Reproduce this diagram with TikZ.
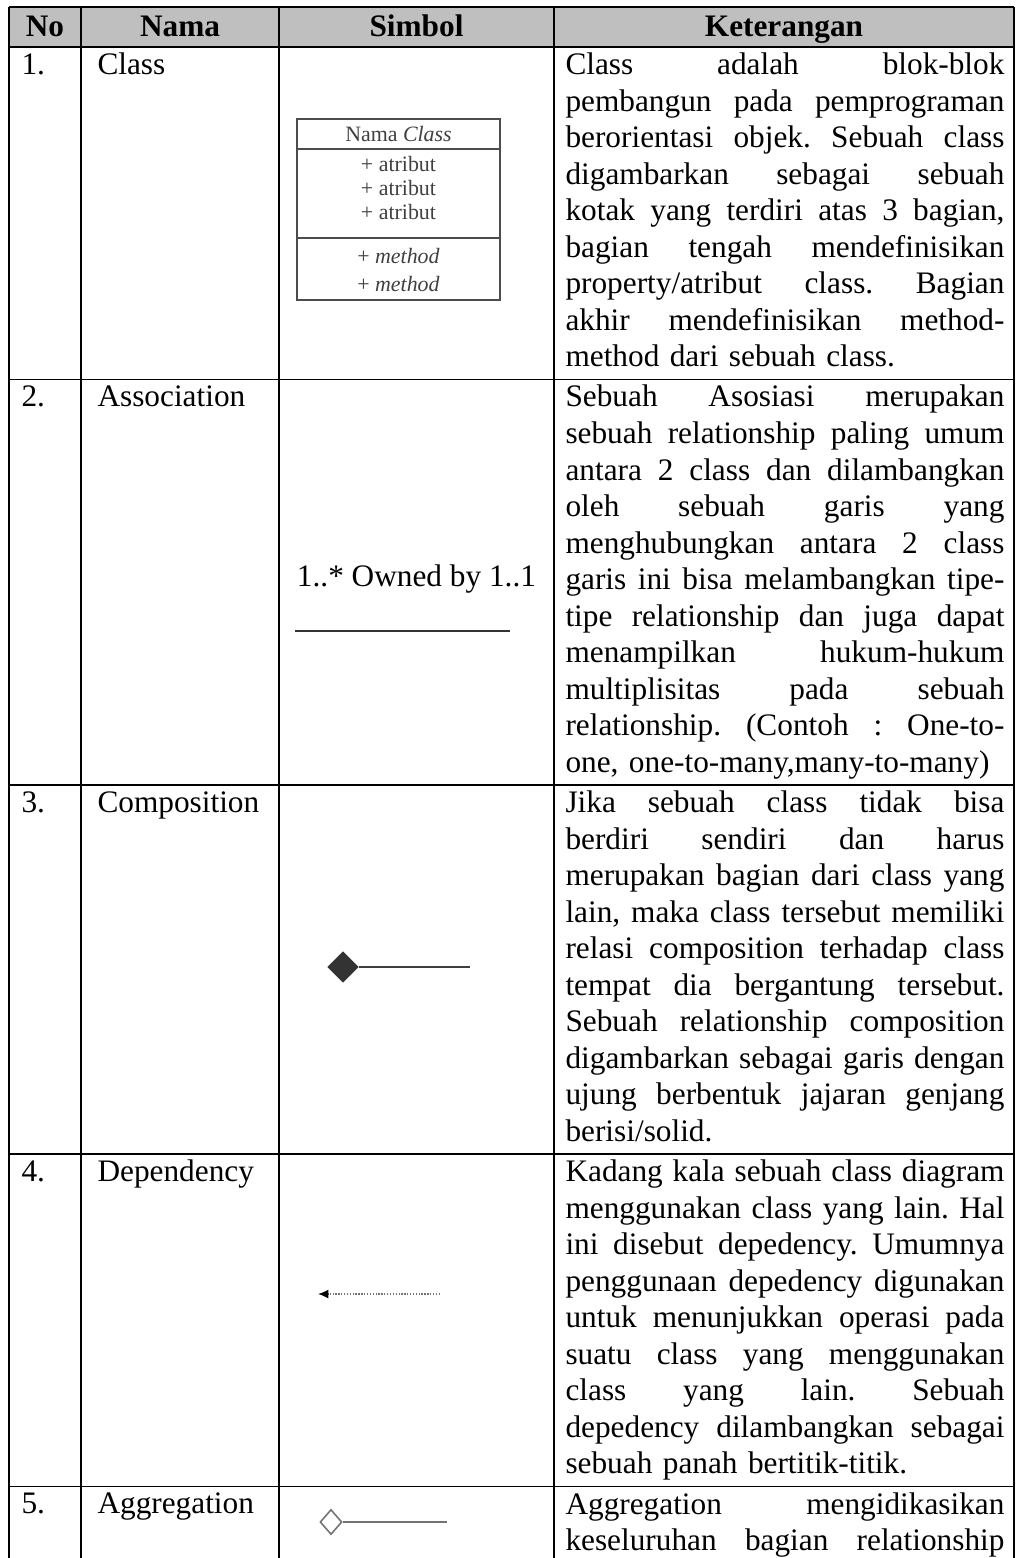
\documentclass[tikz,border=0pt]{standalone}
\usepackage{fontspec}
\setmainfont{Liberation Serif}
\usetikzlibrary{shapes.geometric,arrows.meta}
\definecolor{hdrgray}{RGB}{191,191,191}
\newlength{\kw}
\setlength{\kw}{168.3pt}
\newcommand{\J}[1]{\makebox[\kw][s]{\spaceskip=0pt\xspaceskip=0pt\strut #1}}
\newcommand{\Lf}[1]{\strut #1}
\tikzset{
  grid/.style={line width=0.5pt, black},
  hdrtext/.style={anchor=base, inner sep=0pt, font=\fontsize{12}{14}\selectfont\bfseries},
  celltext/.style={anchor=base west, inner sep=0pt},
  desc/.style={anchor=north west, inner sep=0pt, text width=\kw, align=left},
  clsline/.style={line width=1pt, black!70},
  clstext/.style={inner sep=0pt, anchor=center, text=black!75, font=\fontsize{8.4}{10}\selectfont},
  symline/.style={line width=0.8pt, black!75},
}
\begin{document}
\begin{tikzpicture}[x=0.3834pt, y=-0.3834pt, font=\fontsize{12}{14}\selectfont\frenchspacing]
\useasboundingbox (0,0) rectangle (1020,1558);
% header fill
\fill[hdrgray] (9,7) rectangle (1014,47);
% horizontal rules
\foreach \yy in {7,47,379.5,785,1154,1486.5}
  \draw[grid] (9,\yy) -- (1014,\yy);
% vertical rules
\foreach \xx in {9,81,279,554,1014}
  \draw[grid] (\xx,7) -- (\xx,1558);
% header
\node[hdrtext] (hNo) at (45,36) {No};
\node[hdrtext] (hNama) at (180,36) {Nama};
\node[hdrtext] (hSim) at (416.5,36) {Simbol};
\node[hdrtext] (hKet) at (784,36) {Keterangan};
% numbers and names
\node[celltext] (n1) at (21,74) {1.};
\node[celltext] (m1) at (97,74) {Class};
\node[celltext] (n2) at (21,406.5) {2.};
\node[celltext] (m2) at (97,406.5) {Association};
\node[celltext] (n3) at (21,812) {3.};
\node[celltext] (m3) at (97,812) {Composition};
\node[celltext] (n4) at (21,1181) {4.};
\node[celltext] (m4) at (97,1181) {Dependency};
\node[celltext] (n5) at (21,1513.5) {5.};
\node[celltext] (m5) at (97,1513.5) {Aggregation};
% descriptions
\node[desc] (k1) at (565,48.4) {%
\J{Class adalah blok-blok}\\
\J{pembangun pada pemprograman}\\
\J{berorientasi objek. Sebuah class}\\
\J{digambarkan sebagai sebuah}\\
\J{kotak yang terdiri atas 3 bagian,}\\
\J{bagian tengah mendefinisikan}\\
\J{property/atribut class. Bagian}\\
\J{akhir mendefinisikan method-}\\
\Lf{method dari sebuah class.}};
\node[desc] (k2) at (565,380.9) {%
\J{Sebuah Asosiasi merupakan}\\
\J{sebuah relationship paling umum}\\
\J{antara 2 class dan dilambangkan}\\
\J{oleh sebuah garis yang}\\
\J{menghubungkan antara 2 class}\\
\J{garis ini bisa melambangkan tipe-}\\
\J{tipe relationship dan juga dapat}\\
\J{menampilkan hukum-hukum}\\
\J{multiplisitas pada sebuah}\\
\J{relationship. (Contoh : One-to-}\\
\Lf{one, one-to-many,many-to-many)}};
\node[desc] (k3) at (565,786.4) {%
\J{Jika sebuah class tidak bisa}\\
\J{berdiri sendiri dan harus}\\
\J{merupakan bagian dari class yang}\\
\J{lain, maka class tersebut memiliki}\\
\J{relasi composition terhadap class}\\
\J{tempat dia bergantung tersebut.}\\
\J{Sebuah relationship composition}\\
\J{digambarkan sebagai garis dengan}\\
\J{ujung berbentuk jajaran genjang}\\
\Lf{berisi/solid.}};
\node[desc] (k4) at (565,1155.4) {%
\J{Kadang kala sebuah class diagram}\\
\J{menggunakan class yang lain. Hal}\\
\J{ini disebut depedency. Umumnya}\\
\J{penggunaan depedency digunakan}\\
\J{untuk menunjukkan operasi pada}\\
\J{suatu class yang menggunakan}\\
\J{class yang lain. Sebuah}\\
\J{depedency dilambangkan sebagai}\\
\Lf{sebuah panah bertitik-titik.}};
\node[desc] (k5) at (565,1487.9) {%
\J{Aggregation mengidikasikan}\\
\J{keseluruhan bagian relationship}};
% class symbol
\draw[clsline] (297,119) rectangle (500,300);
\draw[clsline] (297,149) -- (500,149);
\draw[clsline] (297,238) -- (500,238);
\node[clstext] (cname) at (398.5,134) {Nama \textit{Class}};
\node[clstext] (ca1) at (398.5,164) {+ atribut};
\node[clstext] (ca2) at (398.5,188) {+ atribut};
\node[clstext] (ca3) at (398.5,212) {+ atribut};
\node[clstext] (cm1) at (398.5,256) {+ \textit{method}};
\node[clstext] (cm2) at (398.5,284) {+ \textit{method}};
% association symbol
\node[inner sep=0pt, anchor=base] (asText) at (416.5,586) {1..* Owned by 1..1};
\coordinate (asL) at (295,631);
\coordinate (asR) at (510,631);
\draw[line width=1.1pt, black!80] (asL) -- (asR);
% composition symbol
\node[diamond, aspect=1, inner sep=0pt, minimum width=11.5pt, minimum height=11.5pt, fill=black!80, draw=black!80] (compD) at (343,967) {};
\coordinate (compE) at (470,967);
\draw[symline] (compD.east) -- (compE);
% dependency symbol
\coordinate (depR) at (440,1294);
\coordinate (depL) at (318,1294);
\draw[black!55, line width=0.6pt, dash pattern=on 0.5pt off 0.6pt, -{Latex[length=4pt,width=3.5pt,black]}] (depR) -- (depL);
% aggregation symbol
\node[diamond, inner sep=0pt, minimum width=8.4pt, minimum height=9.6pt, fill=white, draw=black!55, line width=0.6pt] (aggD) at (331,1522) {};
\coordinate (aggE) at (447,1522);
\draw[black!55, line width=0.7pt] (aggD.east) -- (aggE);
\end{tikzpicture}
\end{document}
